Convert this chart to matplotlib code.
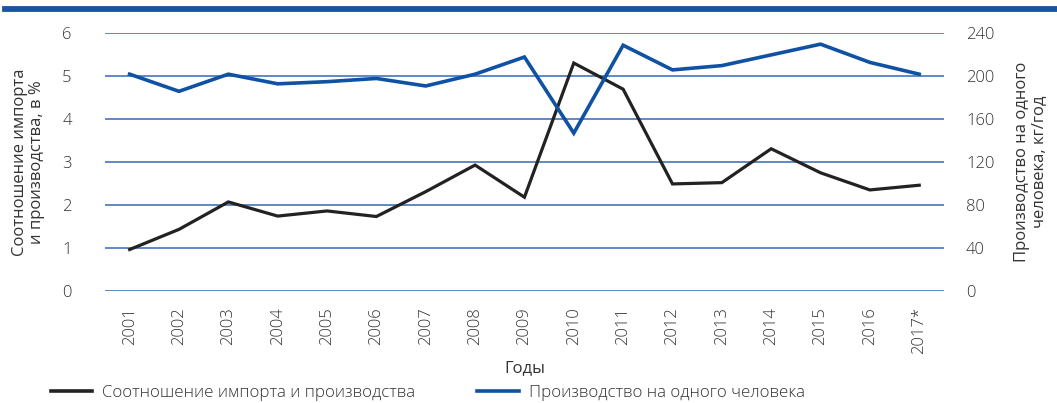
import matplotlib
matplotlib.use("Agg")
import matplotlib.pyplot as plt
from matplotlib.lines import Line2D

plt.rcParams['font.family'] = ['Open Sans', 'DejaVu Sans']
plt.rcParams['font.weight'] = 'light'
plt.rcParams['font.size'] = 12
plt.rcParams['text.color'] = '#333333'
plt.rcParams['axes.labelcolor'] = '#333333'

years = ['2001', '2002', '2003', '2004', '2005', '2006', '2007', '2008', '2009',
         '2010', '2011', '2012', '2013', '2014', '2015', '2016', '2017*']
ratio = [0.96, 1.43, 2.07, 1.74, 1.86, 1.73, 2.31, 2.93, 2.18,
         5.31, 4.70, 2.49, 2.52, 3.31, 2.75, 2.35, 2.46]  # импорт/производство, %
per_capita = [202, 186, 202, 193, 195, 198, 191, 202, 218,
              147, 229, 206, 210, 220, 230, 213, 202]  # кг/год

black = '#222222'
blue = '#0f52a3'
grid_col = '#3468b8'

fig = plt.figure(figsize=(10.57, 4.03), dpi=100)
ax = fig.add_axes([0.0993, 0.2787, 0.7937, 0.6383])
ax2 = ax.twinx()

x = list(range(len(years)))
ax.plot(x, ratio, color=black, lw=2.3, zorder=3, solid_joinstyle='miter')
ax2.plot(x, per_capita, color=blue, lw=2.6, zorder=3, solid_joinstyle='miter')

ax.set_ylim(0, 6)
ax2.set_ylim(0, 240)
ax.set_xlim(-0.5, len(years) - 0.5)
ax.set_yticks(range(0, 7))
ax2.set_yticks(range(0, 241, 40))
ax.yaxis.grid(True, color=grid_col, lw=1.1)
ax.set_axisbelow(True)

ax.set_xticks(x)
ax.set_xticklabels(years, rotation=90)

for a in (ax, ax2):
    for s in a.spines.values():
        s.set_visible(False)
    a.tick_params(length=0, colors='#333333', labelsize=12)
ax.tick_params(axis='y', pad=24)
ax.tick_params(axis='x', pad=12)
ax2.tick_params(axis='y', pad=16)

ax.set_xlabel('Годы', labelpad=4)
ax.set_ylabel('Соотношение импорта\nи производства, в %', labelpad=12, linespacing=1.1)
ax2.set_ylabel('Производство на одного\nчеловека, кг/год', labelpad=14, linespacing=1.1)

# синяя полоса сверху
fig.add_artist(Line2D([0.005, 1.0], [0.978, 0.978], color='#1a55a3', lw=4.2,
                      transform=fig.transFigure))

handles = [Line2D([], [], color=black, lw=2.6),
           Line2D([], [], color=blue, lw=2.6)]
fig.legend(handles, ['Соотношение импорта и производства', 'Производство на одного человека'],
           loc='center left', bbox_to_anchor=(0.048, 0.025), ncol=2, frameon=False,
           borderpad=0, borderaxespad=0, handlelength=2.45, handletextpad=0.6,
           columnspacing=3.65, fontsize=12.2)

fig.savefig('out.png', dpi=100)
